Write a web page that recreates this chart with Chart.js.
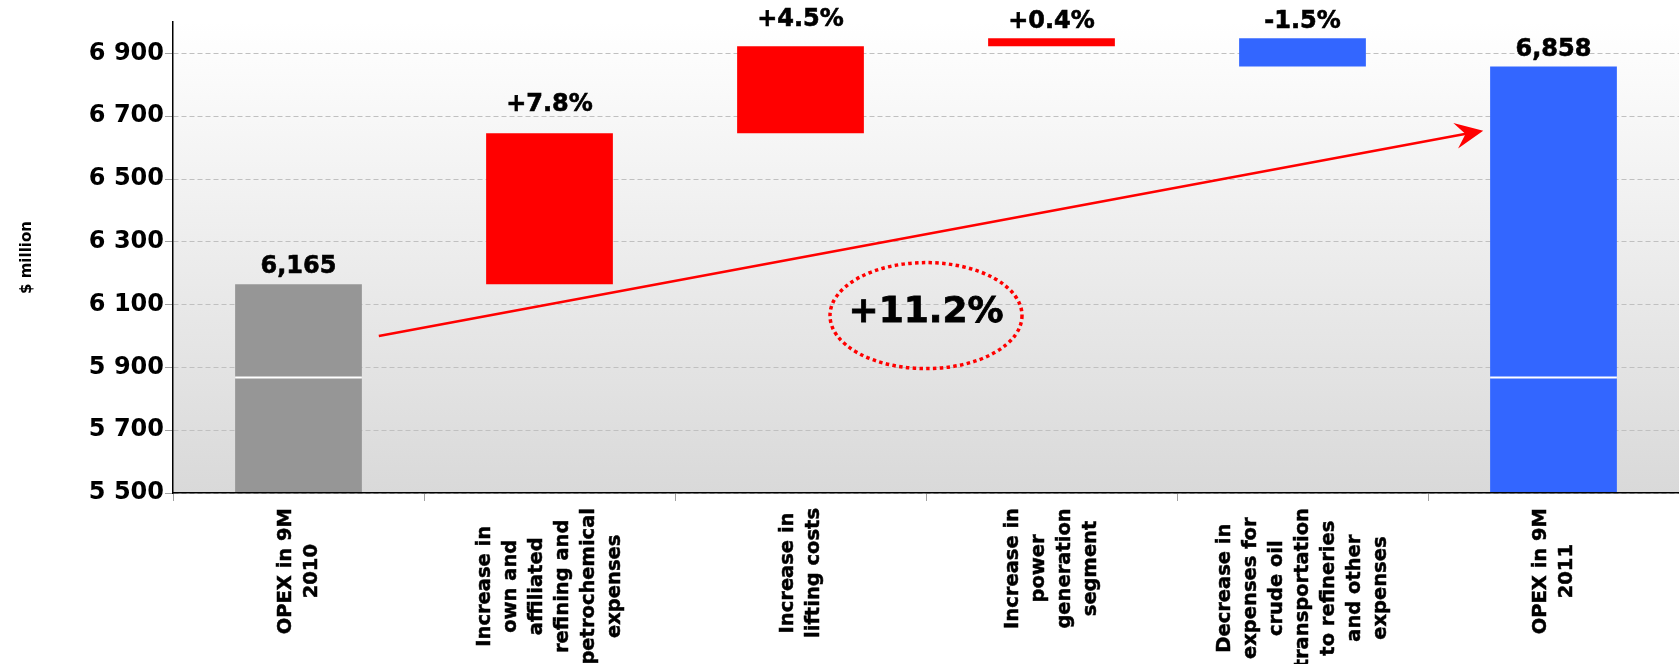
<!DOCTYPE html>
<html>

<head>
    <meta charset="utf-8" />
    <title>OPEX 9M 2010 - 9M 2011</title>
    <script src="https://cdn.jsdelivr.net/npm/chart.js/dist/chart.umd.js"></script>
    <style>
        body {
            margin: 0;
            background: #fff;
        }

        #wrap {
            width: 1679px;
            height: 664px;
            position: relative;
        }
    </style>
</head>

<body>
    <div id="wrap"><canvas id="opexChart"></canvas></div>
    <script>
        // data
        const categories = [
            ['OPEX in 9M', '2010'],
            ['Increase in', 'own and', 'affiliated', 'refining and', 'petrochemical', 'expenses'],
            ['Increase in', 'lifting costs'],
            ['Increase in', 'power', 'generation', 'segment'],
            ['Decrease in', 'expenses for', 'crude oil', 'transportation', 'to refineries', 'and other', 'expenses'],
            ['OPEX in 9M', '2011']
        ];
        const startValue = 6165;
        const changes = [481, 277, 25, -90];
        const changeLabels = ['+7.8%', '+4.5%', '+0.4%', '-1.5%'];
        const endValue = 6858;
        const totalChange = '+11.2%';
        const yTicks = [5500, 5700, 5900, 6100, 6300, 6500, 6700, 6900];
        const axisMin = 5500;
        const axisMax = 7000;
        const breakValue = 5868;
        // arrow and circled total, in axis units (category index, $ million)
        const arrowFrom = [0.32, 6000];
        const arrowTo = [4.72, 6654];
        const ellipseAt = [2.5, 6065];

        const FONT = '"DejaVu Sans", Verdana, sans-serif';
        const GREY = '#969696', RED = '#ff0000', BLUE = '#3366ff';

        // build the waterfall ranges
        var ranges = [[axisMin, startValue]];
        var colors = [GREY];
        var run = startValue;
        changes.forEach(function (d) {
            ranges.push([run, run + d]);
            colors.push(d >= 0 ? RED : BLUE);
            run += d;
        });
        ranges.push([axisMin, endValue]);
        colors.push(BLUE);

        const fmt = v => v.toLocaleString('en-US');
        const barLabels = [fmt(startValue)].concat(changeLabels, [fmt(endValue)]);
        const labelLift = [17, 28, 26, 17, 17, 17];

        const decor = {
            id: 'decor',
            beforeDraw(chart) {
                const { ctx, chartArea: a } = chart;
                const g = ctx.createLinearGradient(0, a.top, 0, a.bottom);
                g.addColorStop(0, '#ffffff');
                g.addColorStop(1, '#d9d9d9');
                ctx.save();
                ctx.fillStyle = g;
                ctx.fillRect(a.left, a.top, a.right - a.left, a.bottom - a.top);
                ctx.restore();
            },
            afterDatasetsDraw(chart) {
                const ctx = chart.ctx;
                const xs = chart.scales.x, ys = chart.scales.y;
                const bars = chart.getDatasetMeta(0).data;
                ctx.save();

                // white break line on the two full bars
                const yb = ys.getPixelForValue(breakValue);
                ctx.strokeStyle = '#fff';
                ctx.lineWidth = 2;
                [0, bars.length - 1].forEach(function (i) {
                    const b = bars[i];
                    ctx.beginPath();
                    ctx.moveTo(b.x - b.width / 2, yb);
                    ctx.lineTo(b.x + b.width / 2, yb);
                    ctx.stroke();
                });

                // labels above bars
                ctx.fillStyle = '#000';
                ctx.strokeStyle = '#000';
                ctx.lineWidth = 0.6;
                ctx.font = 'bold 24px ' + FONT;
                ctx.textAlign = 'center';
                ctx.textBaseline = 'middle';
                bars.forEach(function (b, i) {
                    const top = Math.min(b.y, b.base);
                    ctx.fillText(barLabels[i], b.x, top - labelLift[i]);
                    ctx.strokeText(barLabels[i], b.x, top - labelLift[i]);
                });

                // arrow
                const x1 = xs.getPixelForValue(arrowFrom[0]), y1 = ys.getPixelForValue(arrowFrom[1]);
                const x2 = xs.getPixelForValue(arrowTo[0]), y2 = ys.getPixelForValue(arrowTo[1]);
                const ang = Math.atan2(y2 - y1, x2 - x1);
                const c = Math.cos(ang), s = Math.sin(ang);
                const pt = (back, side) => [x2 - back * c - side * s, y2 - back * s + side * c];
                ctx.strokeStyle = RED;
                ctx.fillStyle = RED;
                ctx.lineWidth = 2.5;
                ctx.beginPath();
                ctx.moveTo(x1, y1);
                const stop = pt(16, 0);
                ctx.lineTo(stop[0], stop[1]);
                ctx.stroke();
                ctx.beginPath();
                ctx.moveTo(x2, y2);
                let p = pt(28, -13); ctx.lineTo(p[0], p[1]);
                p = pt(18, 0); ctx.lineTo(p[0], p[1]);
                p = pt(28, 13); ctx.lineTo(p[0], p[1]);
                ctx.closePath();
                ctx.fill();

                // dotted ellipse with total change
                const ex = xs.getPixelForValue(ellipseAt[0]), ey = ys.getPixelForValue(ellipseAt[1]);
                ctx.strokeStyle = RED;
                ctx.lineWidth = 3.5;
                ctx.setLineDash([3.5, 3.3]);
                ctx.beginPath();
                ctx.ellipse(ex, ey, 96, 53, 0, 0, Math.PI * 2);
                ctx.stroke();
                ctx.setLineDash([]);
                ctx.fillStyle = '#000';
                ctx.strokeStyle = '#000';
                ctx.lineWidth = 0.8;
                ctx.font = 'bold 36px ' + FONT;
                ctx.fillText(totalChange, ex, ey - 3);
                ctx.strokeText(totalChange, ex, ey - 3);
                ctx.restore();
            },
            afterDraw(chart) {
                const ctx = chart.ctx;
                const xs = chart.scales.x;
                ctx.save();
                ctx.fillStyle = '#000';
                ctx.strokeStyle = '#000';
                ctx.lineWidth = 0.5;
                ctx.font = 'bold 19.5px ' + FONT;
                ctx.textAlign = 'center';
                ctx.textBaseline = 'middle';
                categories.forEach(function (lines, i) {
                    const cx = xs.getPixelForValue(i);
                    const w = Math.max.apply(null, lines.map(l => ctx.measureText(l).width));
                    const cy = chart.chartArea.bottom + 15 + w / 2;
                    ctx.save();
                    ctx.translate(cx, cy);
                    ctx.rotate(-Math.PI / 2);
                    lines.forEach(function (l, j) {
                        const ly = (j - (lines.length - 1) / 2) * 26;
                        ctx.fillText(l, 0, ly);
                        ctx.strokeText(l, 0, ly);
                    });
                    ctx.restore();
                });
                ctx.restore();
            }
        };

        Chart.defaults.font.family = FONT;
        Chart.defaults.color = '#000';

        new Chart(document.getElementById('opexChart'), {
            type: 'bar',
            data: {
                labels: categories.map(l => l.join(' ')),
                datasets: [{
                    data: ranges,
                    backgroundColor: colors,
                    borderWidth: 0,
                    categoryPercentage: 1,
                    barPercentage: 0.505
                }]
            },
            options: {
                responsive: true,
                maintainAspectRatio: false,
                animation: false,
                events: [],
                layout: { padding: { top: 22, right: 0, left: 0, bottom: 0 } },
                plugins: {
                    legend: { display: false },
                    tooltip: { enabled: false }
                },
                scales: {
                    x: {
                        offset: true,
                        afterFit: s => { s.height = 171; },
                        ticks: { display: false },
                        grid: {
                            display: true,
                            drawOnChartArea: false,
                            drawTicks: true,
                            tickLength: 8,
                            color: '#a0a0a0',
                            offset: true
                        },
                        border: { color: '#000', width: 1.5, z: 1 }
                    },
                    y: {
                        min: axisMin,
                        max: axisMax,
                        afterBuildTicks: s => { s.ticks = yTicks.map(v => ({ value: v })); },
                        afterFit: s => { s.width = 173; },
                        ticks: {
                            padding: 1,
                            font: { size: 24, weight: 'bold' },
                            callback: v => String(v).replace(/\B(?=(\d{3})+(?!\d))/g, ' ')
                        },
                        grid: {
                            color: '#c0c0c0',
                            tickLength: 8,
                            tickColor: '#a0a0a0',
                            tickBorderDash: []
                        },
                        border: { color: '#000', width: 1.5, dash: [5, 3], z: 1 },
                        title: {
                            display: true,
                            text: '$ million',
                            font: { size: 15, weight: 'bold' },
                            padding: { top: 18, bottom: 0 }
                        }
                    }
                }
            },
            plugins: [decor]
        });
    </script>
</body>

</html>
